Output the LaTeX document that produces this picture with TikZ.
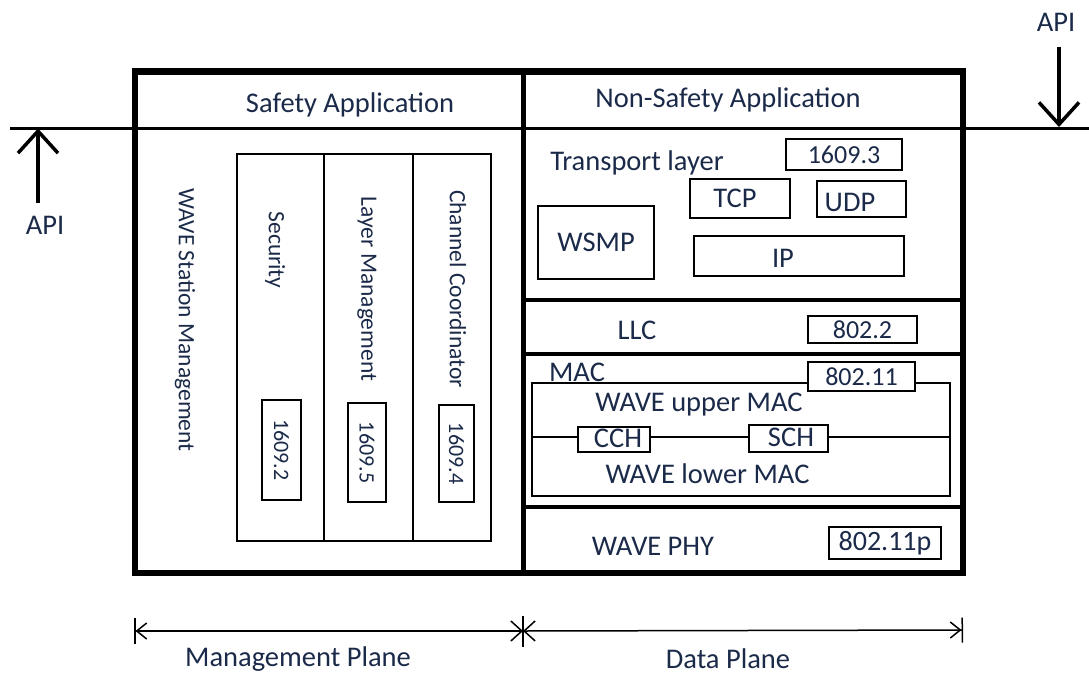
\documentclass[tikz,border=0pt]{standalone}
\usepackage{fontspec}
\setmainfont{Carlito}
\usetikzlibrary{arrows.meta}
\definecolor{ink}{HTML}{1B2A49}
\begin{document}
\begin{tikzpicture}[x=1pt,y=-1pt,
  txt/.style={text=ink, font=\fontsize{28.5}{31}\selectfont, inner sep=0pt},
  vtxt/.style={text=ink, font=\fontsize{23.5}{26}\selectfont, inner sep=0pt, rotate=-90},
  box/.style={draw=black, line width=1.5pt, inner sep=0pt, fill=white, text=ink, font=\fontsize{26}{28}\selectfont},
  vbox/.style={box, rotate=-90, font=\fontsize{22}{24}\selectfont},
  frame/.style={line width=6.5pt},
  layersep/.style={line width=4pt},
  thinline/.style={line width=1.5pt},
  apiarrow/.style={line width=3.5pt, -{Straight Barb[length=22pt,width=40pt]}},
  dimline/.style={line width=1.5pt}
]
\useasboundingbox (0,0) rectangle (1089,675);

% API line
\coordinate (apiLineL) at (10,128.5);
\coordinate (apiLineR) at (1089,128.5);
\draw[line width=3pt] (apiLineL) -- (apiLineR);

% outer frame and column split
\draw[frame] (135,71.5) rectangle (963,573);
\draw[line width=5pt] (523.5,71.5) -- (523.5,573);

% right column layer separators
\draw[layersep] (523.5,300) -- (963,300);
\draw[layersep] (523.5,354) -- (963,354);
\draw[layersep] (523.5,507) -- (963,507);

% ---------- left column ----------
\node[txt] (safety) at (350,105) {Safety Application};
\node[vtxt] (wsm) at (185,320) {WAVE Station Management};
\draw[thinline] (237,154) rectangle (491,541);
\draw[thinline] (324,154) -- (324,541);
\draw[thinline] (413,154) -- (413,541);
\node[vtxt] (sec) at (275,250) {Security};
\node[vtxt] (lm) at (367,289) {Layer Management};
\node[vtxt] (cc) at (458,289) {Channel Coordinator};
\node[vbox, minimum width=100pt, minimum height=39pt] (b16092) at (281.5,450) {1609.2};
\node[vbox, minimum width=99pt, minimum height=38pt] (b16095) at (367,452.5) {1609.5};
\node[vbox, minimum width=97pt, minimum height=35pt] (b16094) at (456.5,453.5) {1609.4};

% ---------- right column ----------
\node[txt] (nonsafety) at (728,100) {Non-Safety Application};
\node[txt] (transport) at (637,163) {Transport layer};
\node[box, minimum width=116pt, minimum height=31pt] (b16093) at (844,154.5) {1609.3};
\node[box, minimum width=100pt, minimum height=39pt] (tcp) at (740,198.5) {};
\node[txt] (tcpt) at (735,198) {TCP};
\node[box, minimum width=89pt, minimum height=36pt] (udp) at (861.5,199) {};
\node[txt] (udpt) at (850,202) {UDP};
\node[box, minimum width=116pt, minimum height=73pt, font=\fontsize{28.5}{31}\selectfont] (wsmp) at (596,242.5) {WSMP};
\node[box, minimum width=210pt, minimum height=40pt] (ip) at (799,256) {};
\node[txt] (ipt) at (783,258) {IP};

% LLC
\node[txt] (llc) at (637,330) {LLC};
\node[box, minimum width=109pt, minimum height=27pt] (b8022) at (862.5,329.5) {802.2};

% MAC
\node[txt] (mac) at (577,372) {MAC};
\draw[thinline] (532,383) rectangle (950,496);
\node[box, minimum width=107pt, minimum height=29pt] (b80211) at (861.5,376.5) {802.11};
\node[txt] (upper) at (699,405) {WAVE upper MAC};
\coordinate (macL) at (532,437);
\coordinate (macR) at (950,437);
\node[box, minimum width=72pt, minimum height=25pt] (cch) at (614,439.5) {};
\node[txt] (ccht) at (618,438) {CCH};
\node[box, minimum width=79pt, minimum height=27pt] (sch) at (788.5,438.5) {};
\node[txt] (scht) at (791,437) {SCH};
\draw[thinline] (macL) -- (cch.west |- macL);
\draw[thinline] (cch.east |- macL) -- (sch.west |- macL);
\draw[thinline] (sch.east |- macL) -- (macR);
\node[txt] (lower) at (707.5,474) {WAVE lower MAC};

% PHY
\node[txt] (phy) at (653,546) {WAVE PHY};
\node[box, minimum width=112pt, minimum height=32pt, font=\fontsize{28}{30}\selectfont] (b80211p) at (885,543) {802.11p};

% ---------- API arrows ----------
\coordinate (apiLtail) at (38,203);
\coordinate (apiLtip) at (38,128.5);
\draw[apiarrow] (apiLtail) -- (apiLtip);
\node[txt] (apiL) at (45,225) {API};
\coordinate (apiRtail) at (1059,47);
\coordinate (apiRtip) at (1059,127);
\draw[apiarrow] (apiRtail) -- (apiRtip);
\node[txt] (apiR) at (1056,22) {API};

% ---------- planes ----------
\coordinate (mpL) at (134,631);
\coordinate (mid) at (523,631);
\coordinate (dpR) at (963,630);
\coordinate (midTop) at (523,616);
\coordinate (midBot) at (523,647);
\draw[dimline, {Bar[width=26pt]Straight Barb[length=10pt,width=16pt]}-{Straight Barb[length=11pt,width=20pt]}] (mpL) -- (mid);
\draw[dimline, {Straight Barb[length=11pt,width=20pt]}-{Straight Barb[length=10pt,width=16pt]Bar[width=25pt]}] (mid) -- (dpR);
\draw[dimline] (midTop) -- (midBot);
\node[txt] (mplane) at (298,659) {Management Plane};
\node[txt] (dplane) at (728,659) {Data Plane};
\end{tikzpicture}
\end{document}
